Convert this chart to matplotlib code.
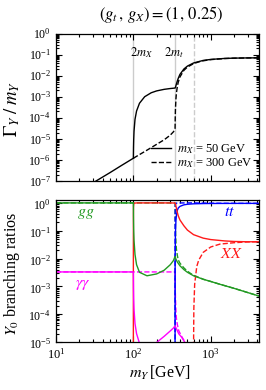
import matplotlib
matplotlib.use("Agg")
import matplotlib.pyplot as plt  # noqa: E402
import matplotlib.transforms as mtransforms  # noqa: E402
from matplotlib.ticker import LogLocator, NullFormatter  # noqa: E402

plt.rcParams["font.family"] = ["Liberation Serif", "DejaVu Serif"]
plt.rcParams["mathtext.fontset"] = "stix"

# 임계점 (2m_X = 100, 2m_t = 346, 2m_X' = 600)
thresholds = [100, 346, 600]

# 전폭 Γ/m : 공통 구간 (m < 2m_X)
m_low = [30, 50, 70, 100]
w_low = [8.1e-8, 2.5e-7, 5.4e-7, 1.2e-6]

# m_X = 50 GeV
m_w50 = [100, 100.05, 100.2, 100.5, 101, 102, 105, 110, 120, 140, 170, 200, 250,
         300, 346, 347, 350, 355, 360, 370, 380, 400, 450, 500, 600, 800, 1000,
         1500, 2000, 3000, 4200]
w_w50 = [1.2e-6, 1.29e-6, 1.9e-6, 4.1e-6, 9.2e-6, 2.3e-5, 8.4e-5, 2.1e-4, 4.9e-4,
         1.0e-3, 1.54e-3, 1.89e-3, 2.24e-3, 2.45e-3, 2.58e-3, 2.62e-3, 2.8e-3,
         3.35e-3, 4.0e-3, 5.6e-3, 7.4e-3, 1.15e-2, 2.07e-2, 2.85e-2, 4.0e-2,
         5.3e-2, 5.9e-2, 6.56e-2, 6.8e-2, 6.96e-2, 7.03e-2]

# m_X = 300 GeV
m_w300 = [100, 150, 200, 250, 300, 331, 340, 346, 346.5, 347, 348, 350, 355, 360,
          370, 380, 400, 450, 500, 600, 700, 800, 1000, 1500, 2000, 3000, 4200]
w_w300 = [1.2e-6, 2.9e-6, 5.5e-6, 9e-6, 1.5e-5, 2.2e-5, 2.7e-5, 3.2e-5, 4.3e-5,
          6.2e-5, 1.16e-4, 2.6e-4, 7.9e-4, 1.46e-3, 3.0e-3, 4.85e-3, 8.7e-3,
          1.79e-2, 2.57e-2, 3.72e-2, 4.52e-2, 5.08e-2, 5.78e-2, 6.49e-2, 6.76e-2,
          6.94e-2, 7.02e-2]

# 분기비, m_X = 50 GeV (실선)
m_gg50 = [10, 100, 100.01, 100.05, 100.2, 100.5, 101, 102, 105, 110, 120, 150, 200,
          250, 300, 330, 346, 355, 370, 400, 450, 500, 600, 800, 1000, 1300, 2000,
          3000, 4200]
br_gg50 = [0.9967, 0.9967, 0.99, 0.92, 0.6, 0.26, 0.11, 0.045, 0.014, 6e-3, 3.2e-3,
           2.4e-3, 2.8e-3, 3.8e-3, 6e-3, 8.5e-3, 1.2e-2, 9.5e-3, 7.5e-3, 5.5e-3,
           4.0e-3, 3.2e-3, 2.4e-3, 1.8e-3, 1.5e-3, 1.2e-3, 8.5e-4, 6e-4, 4.5e-4]

m_aa50 = [10, 100, 100.05, 100.2, 100.5, 101, 102, 105, 110, 120, 130, 160, 190, 203,
          250, 300, 330, 346, 360, 385, 420, 460, 500]
br_aa50 = [3.3e-3, 3.3e-3, 3e-3, 2e-3, 8.6e-4, 3.6e-4, 1.5e-4, 4.6e-5, 2e-5, 9e-6,
           5e-6, 4e-6, 7e-6, 1e-5, 1.6e-5, 2.5e-5, 3.2e-5, 3.8e-5, 3e-5, 2e-5,
           1.5e-5, 1e-5, 7e-6]

m_xx50 = [100, 100.001, 100.01, 100.05, 100.2, 100.5, 101, 102, 105, 110, 120, 150,
          200, 300, 346, 347, 350, 355, 360, 370, 380, 400, 450, 500, 600, 800,
          1000, 1500, 2000, 3000, 4200]
br_xx50 = [1e-8, 2.6e-4, 8e-3, 0.077, 0.4, 0.74, 0.89, 0.955, 0.986, 0.994, 0.997,
           0.997, 0.997, 0.994, 0.988, 0.977, 0.91, 0.76, 0.64, 0.455, 0.345, 0.243,
           0.15, 0.105, 0.072, 0.054, 0.048, 0.043, 0.041, 0.040, 0.040]

m_tt50 = [346, 346.1, 346.5, 347, 350, 355, 360, 370, 380, 400, 450, 500, 600, 800,
          1000, 1500, 2000, 4200]
br_tt50 = [1e-8, 3.6e-4, 4e-3, 0.0115, 0.082, 0.227, 0.357, 0.536, 0.65, 0.748,
           0.85, 0.89, 0.925, 0.944, 0.95, 0.955, 0.958, 0.959]

# 분기비, m_X = 300 GeV (점선)
m_gg300 = [10, 346, 346.5, 347, 348, 350, 355, 360, 370, 380, 400, 450, 500, 550,
           600, 800, 1000, 1300, 2000, 3000, 4200]
br_gg300 = [0.9967, 0.9967, 0.74, 0.5, 0.26, 0.115, 0.04, 0.022, 0.013, 9e-3, 6.8e-3,
            4.6e-3, 3.5e-3, 2.9e-3, 2.5e-3, 1.8e-3, 1.5e-3, 1.2e-3, 8.5e-4, 6e-4,
            4.5e-4]

m_aa300 = [10, 346, 346.5, 347, 348, 350, 355, 360, 370, 385, 420, 460, 500]
br_aa300 = [3.3e-3, 3.3e-3, 2.4e-3, 1.6e-3, 8.6e-4, 3.8e-4, 1.3e-4, 7e-5, 4.3e-5,
            2.6e-5, 1.6e-5, 1.05e-5, 7e-6]

m_tt300 = [346, 346.01, 346.1, 346.5, 347, 348, 350, 355, 360, 400, 600, 700, 800,
           1000, 1500, 2000, 4200]
br_tt300 = [1e-8, 1e-3, 0.03, 0.26, 0.5, 0.74, 0.885, 0.96, 0.978, 0.993, 0.997,
            0.988, 0.981, 0.973, 0.963, 0.96, 0.958]

m_xx300 = [600, 600.1, 601, 605, 620, 660, 700, 800, 1000, 1316, 2000, 3000, 4200]
br_xx300 = [1e-8, 4.8e-7, 1.5e-5, 1.6e-4, 1.2e-3, 5.2e-3, 8.8e-3, 0.0167, 0.026,
            0.033, 0.037, 0.0396, 0.040]

C_GG = "#229922"
C_AA = "#ff00ff"
C_XX = "#ff1a1a"
C_TT = "#0000ff"
LW = 1.0


def style_axis(ax, ymin, ymax, label_dy):
    ax.set_xscale("log")
    ax.set_yscale("log")
    ax.set_xlim(10, 4200)
    ax.set_ylim(ymin, ymax)
    for axis in (ax.xaxis, ax.yaxis):
        axis.set_major_locator(LogLocator(base=10, numticks=20))
        axis.set_minor_locator(LogLocator(base=10, subs=range(2, 10), numticks=20))
        axis.set_minor_formatter(NullFormatter())
    ax.tick_params(which="both", direction="in", top=True, right=True,
                   labelsize=9, width=0.8)
    ax.tick_params(axis="y", labelsize=8.6)
    ax.tick_params(which="major", length=4.5)
    ax.tick_params(which="minor", length=2.2, labelleft=False, labelbottom=False)
    # y 눈금 라벨을 살짝 아래로 (원본처럼 숫자가 눈금보다 조금 낮게)
    shift = mtransforms.ScaledTranslation(0, -label_dy / 100, ax.figure.dpi_scale_trans)
    for tick in ax.yaxis.get_major_ticks():
        tick.label1.set_verticalalignment("center")
        tick.label1.set_transform(tick.label1.get_transform() + shift)
    for sp in ax.spines.values():
        sp.set_linewidth(0.9)


fig = plt.figure(figsize=(2.66, 3.90), dpi=100)
ax1 = fig.add_axes([0.2105, 0.536, 0.763, 0.378])
ax2 = fig.add_axes([0.2105, 0.123, 0.763, 0.363])

# 위쪽: 전폭
style_axis(ax1, 1e-7, 1.0, 1.0)
ax1.tick_params(which="both", labelbottom=False)
for i, t in enumerate(thresholds):
    ax1.axvline(t, color="#cccccc", lw=1.0, ls="--" if i == 2 else "-", zorder=0)
ax1.plot(m_low, w_low, color="k", lw=LW)
ax1.plot(m_w300, w_w300, color="k", lw=LW, ls="--")
ax1.plot(m_w50, w_w50, color="k", lw=LW)
h_solid, = ax1.plot([], [], color="k", lw=LW)
h_dash, = ax1.plot([], [], color="k", lw=LW, ls="--")
ax1.legend([h_solid, h_dash],
           [r"$m_X$ = 50 GeV", r"$m_X$ = 300 GeV"],
           loc="lower right", frameon=False, fontsize=9, handlelength=1.6,
           handletextpad=0.5, labelspacing=0.05, borderaxespad=0.1,
           bbox_to_anchor=(1.0, 0.03))
ax1.text(127, 0.12, r"$2m_X$", fontsize=9, ha="center", va="center")
ax1.text(332, 0.12, r"$2m_t$", fontsize=9, ha="center", va="center")

# 아래쪽: 분기비
style_axis(ax2, 1e-5, 1.22, 2.5)
ax2.plot(m_gg300, br_gg300, color=C_GG, lw=LW, ls="--")
ax2.plot(m_aa300, br_aa300, color=C_AA, lw=LW, ls="--")
ax2.plot(m_xx300, br_xx300, color=C_XX, lw=LW, ls="--")
ax2.plot(m_tt50, br_tt50, color=C_TT, lw=LW)
ax2.plot(m_tt300, br_tt300, color=C_TT, lw=LW, ls="--")
ax2.plot(m_xx50, br_xx50, color=C_XX, lw=LW)
ax2.plot(m_gg50, br_gg50, color=C_GG, lw=LW)
ax2.plot(m_aa50, br_aa50, color=C_AA, lw=LW)

ax2.text(24, 0.42, r"$gg$", color=C_GG, fontsize=11.5, ha="center", va="center")
ax2.text(1766, 0.48, r"$tt$", color=C_TT, fontsize=11.5, ha="center", va="center")
ax2.text(1862, 0.014, r"$XX$", color=C_XX, fontsize=11.5, ha="center", va="center")
ax2.text(22, 1.2e-3, r"$\gamma\gamma$", color=C_AA, fontsize=11.5, ha="center",
         va="center")

fig.text(0.605, 0.962, r"$(g_t\,,\,g_X) = (1,\,0.25)$", fontsize=12,
         ha="center", va="center")
fig.text(0.045, 0.72, r"$\Gamma_Y\;/\;m_Y$", fontsize=13.5, rotation=90,
         ha="center", va="center")
fig.text(0.045, 0.297, r"$Y_0$ branching ratios", fontsize=11.5, rotation=90,
         ha="center", va="center")
fig.text(0.6, 0.044, r"$m_Y\,$[GeV]", fontsize=11.5, ha="center", va="center")

fig.savefig("out.png", dpi=100)
